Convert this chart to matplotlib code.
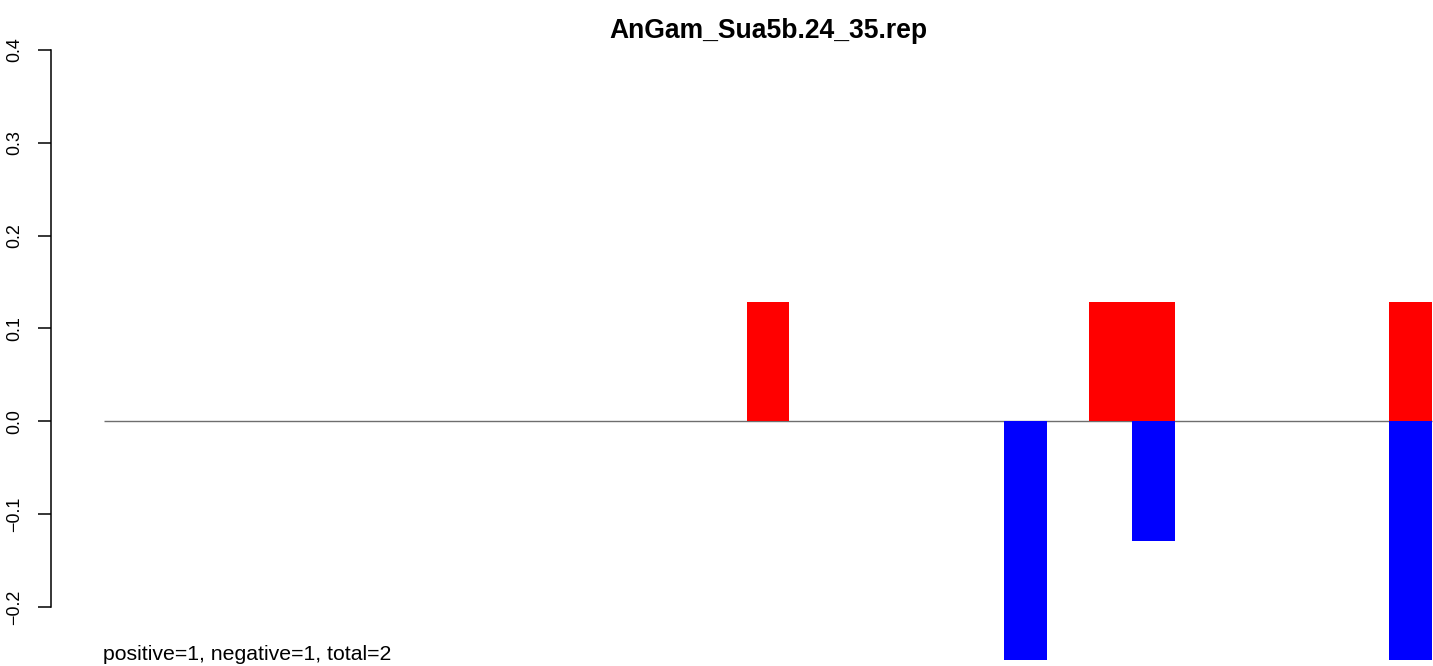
import matplotlib
matplotlib.use("Agg")
import matplotlib.pyplot as plt
import numpy as np

title = "AnGam_Sua5b.24_35.rep"
footer = "positive=1, negative=1, total=2"
positive_values = [0, 0, 0, 0, 0, 0, 0, 0, 0, 0, 0, 0, 0, 0, 0, 0.1286,
                   0, 0, 0, 0, 0, 0, 0, 0.1286, 0.1286, 0, 0, 0, 0, 0, 0.1286]
negative_values = [0, 0, 0, 0, 0, 0, 0, 0, 0, 0, 0, 0, 0, 0, 0, 0,
                   0, 0, 0, 0, 0, -0.2571, 0, 0, -0.1286, 0, 0, 0, 0, 0, -0.2571]
ytick_values = [-0.2, -0.1, 0.0, 0.1, 0.2, 0.3, 0.4]
ytick_labels = ["\u22120.2", "\u22120.1", "0.0", "0.1", "0.2", "0.3", "0.4"]

plt.rcParams['font.family'] = ['Liberation Sans', 'DejaVu Sans']

W, H = 1433, 666
fig = plt.figure(figsize=(W / 100, H / 100), dpi=100)
# plot region extends beyond the right edge as in the original
ax = fig.add_axes([50.5 / W, 0, 1435 / W, 1])

n = len(positive_values)
x = np.arange(n)
ax.plot([0, n], [0, 0], color="#6e6e6e", lw=1.0, zorder=1, solid_capstyle="butt")
ax.bar(x, positive_values, width=1.0, align="edge", color="#ff0000", linewidth=0, zorder=2)
ax.bar(x, negative_values, width=1.0, align="edge", color="#0000ff", linewidth=0, zorder=2)

ext = 0.04 * n
ax.set_xlim(-ext, n + ext)
zero_px = 421.3
px_per_unit = 928.0
ax.set_ylim(-(H - zero_px) / px_per_unit, zero_px / px_per_unit)

for s in ["top", "right", "bottom"]:
    ax.spines[s].set_visible(False)
ax.spines["left"].set_bounds(ytick_values[0], ytick_values[-1])
ax.spines["left"].set_linewidth(1.1)
ax.set_xticks([])
ax.set_yticks(ytick_values)
ax.set_yticklabels(ytick_labels, rotation=90, va="center", fontsize=12.9)
ax.tick_params(axis="y", length=9.5, width=1.1, pad=10)

ax.set_title(title, fontsize=19.1, fontweight="bold", y=1 - 38 / H, pad=0)
fig.text(103 / W, 1 - 660 / H, footer, fontsize=15.3, ha="left", va="baseline")

fig.savefig("out.png", dpi=100)
